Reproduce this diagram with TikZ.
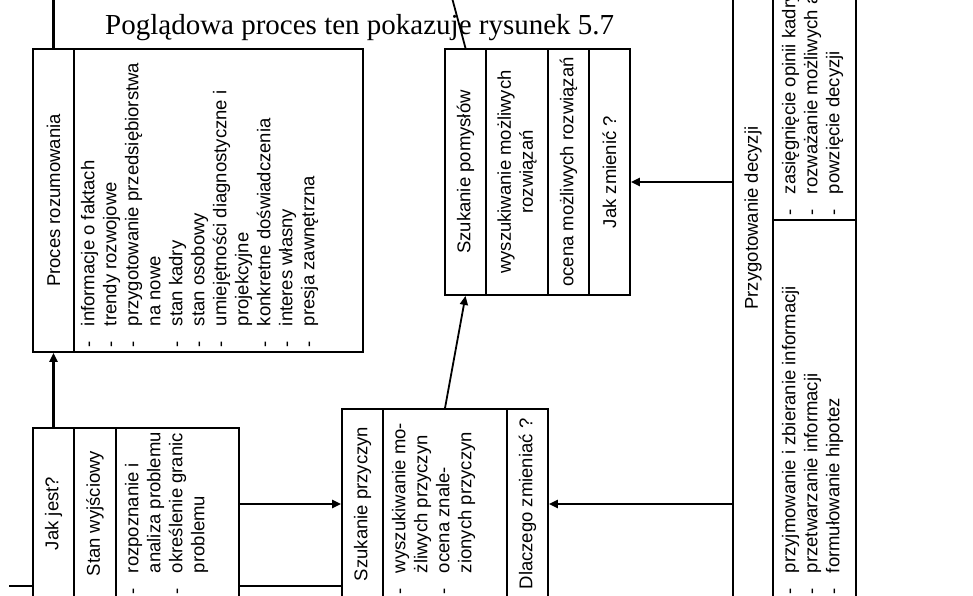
\documentclass[tikz,border=0pt]{standalone}
\usepackage{fontspec}
\setmainfont{Liberation Sans}
\newfontfamily\titlefont{Liberation Serif}
\usetikzlibrary{arrows.meta,calc}

\tikzset{
  col/.style={draw=black, line width=1.8pt, fill=white, rotate=90, inner sep=5pt,
              font=\fontsize{18.5}{22}\selectfont},
  conn/.style={line width=2.2pt, draw=black},
  arr/.style={conn, -{Triangle[length=9pt,width=8pt]}},
}
% list lines: an item with its hyphen, and a continuation line
\newcommand\li[1]{\mbox{\makebox[21pt][l]{-}#1}\par}
\newcommand\lc[1]{\mbox{\hspace*{21pt}#1}\par}
% one column of a box: name, x1, y1, x2, y2, vertical position, text
\newcommand\boxcol[7]{%
  \pgfmathsetmacro\bw{#5-#3-10}%
  \pgfmathsetmacro\bh{#4-#2-10}%
  \node[col] (#1) at ({(#2+#4)/2},{(#3+#5)/2})
    {\parbox[c][\bh pt][#6]{\bw pt}{#7}};%
}

\begin{document}
\begin{tikzpicture}[x=1pt,y=-1pt]
\clip (0,0) rectangle (973,596);

% heading line
\node[font=\titlefont\fontsize{29}{34}\selectfont, anchor=base west, inner sep=0pt]
  (title) at (105,35) {Poglądowa proces ten pokazuje rysunek 5.7};

% reasoning process
\boxcol{procA}{33}{49}{74}{352}{c}{\centering Proces rozumowania}
\boxcol{procB}{74}{49}{363}{352}{t}{\parindent=0pt\vspace*{2pt}
  \li{informacje o faktach}
  \li{trendy rozwojowe}
  \li{przygotowanie przedsiębiorstwa}
  \lc{na nowe}
  \li{stan kadry}
  \li{stan osobowy}
  \li{umiejętności diagnostyczne i}
  \lc{projekcyjne}
  \li{konkretne doświadczenia}
  \li{interes własny}
  \li{presja zawnętrzna}}

% starting state
\boxcol{jakA}{33}{428}{74}{599}{c}{\centering Jak jest?}
\boxcol{jakB}{74}{428}{116}{599}{c}{\centering Stan wyjściowy}
\boxcol{jakC}{116}{428}{239}{599}{t}{\parindent=0pt\vspace*{4pt}
  \li{rozpoznanie i}
  \lc{analiza problemu}
  \li{określenie granic}
  \lc{problemu}}

% search for causes
\boxcol{przA}{342}{409}{383}{599}{c}{\centering Szukanie przyczyn}
\boxcol{przB}{383}{409}{507}{599}{t}{\parindent=0pt\vspace*{4pt}
  \li{wyszukiwanie mo-}
  \lc{żliwych przyczyn}
  \li{ocena znale-}
  \lc{zionych przyczyn}}
\boxcol{przC}{507}{409}{548}{599}{c}{\centering Dlaczego zmieniać ?}

% search for ideas
\boxcol{pomA}{445}{49}{486}{295}{c}{\centering Szukanie pomysłów}
\boxcol{pomB}{486}{49}{548}{295}{c}{\centering wyszukiwanie możliwych\\rozwiązań}
\boxcol{pomC}{548}{49}{589}{295}{c}{\centering ocena możliwych rozwiązań}
\boxcol{pomD}{589}{49}{630}{295}{c}{\centering Jak zmienić ?}

% decision preparation
\boxcol{decA}{733}{-163}{773}{599}{c}{\centering Przygotowanie decyzji}
\boxcol{decB}{773}{-163}{856}{220}{t}{\parindent=0pt\vspace*{4pt}
  \li{zasięgnięcie opinii kadry}
  \li{rozważanie możliwych alternatyw}
  \li{powzięcie decyzji}}
\boxcol{decC}{773}{220}{856}{599}{t}{\parindent=0pt\vspace*{4pt}
  \li{przyjmowanie i zbieranie informacji}
  \li{przetwarzanie informacji}
  \li{formułowanie hipotez}}

% connector levels
\coordinate (r1) at (0,182);
\coordinate (r2) at (0,504);
\coordinate (r3) at (0,586);
\coordinate (procIn) at (53.5,-5);
\coordinate (leftIn) at (9,586);
\coordinate (pomIn) at (447.5,-19);

% connectors
\draw[conn] (procA.east) -- (procIn);
\draw[arr] (jakA.east) -- (procA.west);
\draw[arr] (jakC.south |- r2) -- (przA.north |- r2);
\draw[conn] (leftIn) -- (jakA.north |- r3);
\draw[conn] (jakC.south |- r3) -- (przA.north |- r3);
\draw[arr, line width=1.8pt] (przB.east) -- (pomA.west);
\draw[conn, line width=1.8pt] (pomA.east) -- (pomIn);
\draw[arr] (decA.north |- r1) -- (pomD.south |- r1);
\draw[arr] (decA.north |- r2) -- (przC.south |- r2);
\end{tikzpicture}
\end{document}
